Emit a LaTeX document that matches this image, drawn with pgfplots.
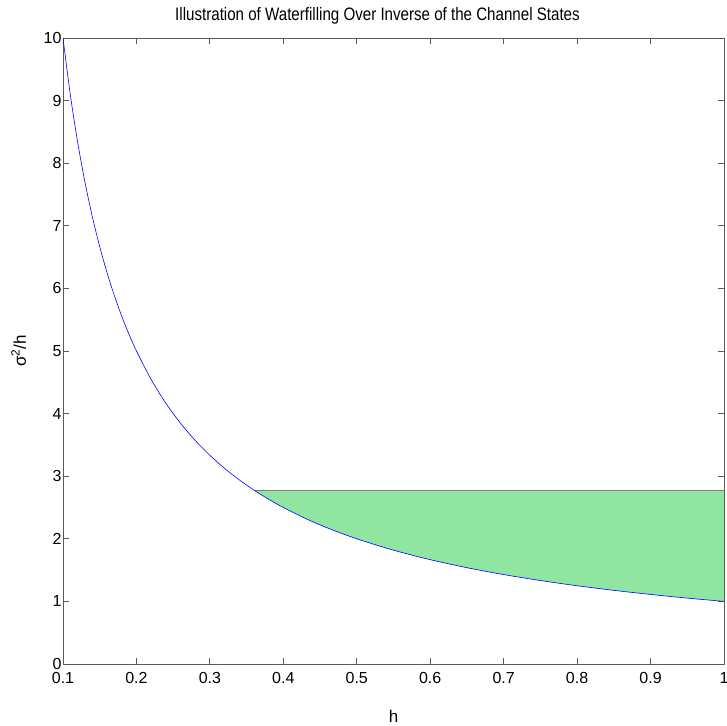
\documentclass[border=0pt]{standalone}
\usepackage{fontspec}
\setmainfont{Liberation Sans}
\usepackage{graphicx}
\usepackage{pgfplots}
\pgfplotsset{compat=1.18}
\definecolor{wgreen}{RGB}{144,230,160}
\definecolor{axgray}{RGB}{90,90,90}
\begin{document}
\begin{tikzpicture}
\useasboundingbox (-63pt,-62pt) rectangle (663pt,664pt);
\begin{axis}[
  at={(0pt,0pt)}, anchor=south west,
  width=661pt, height=626pt, scale only axis,
  xmin=0.1, xmax=1, ymin=0, ymax=10,
  xtick={0.1,0.2,0.3,0.4,0.5,0.6,0.7,0.8,0.9,1},
  xticklabels={0.1,0.2,0.3,0.4,0.5,0.6,0.7,0.8,0.9,1},
  ytick={0,1,2,3,4,5,6,7,8,9,10},
  tick align=inside,
  major tick length=6pt,
  axis line style={axgray, line width=0.8pt},
  every tick/.style={axgray, line width=0.8pt},
  /pgf/number format/assume math mode=true,
  tick label style={font=\fontsize{16}{18}\selectfont},
  xticklabel style={yshift=-5pt},
  yticklabel style={xshift=2pt},
  title={\scalebox{0.84}[1]{Illustration of Waterfilling Over Inverse of the Channel States}},
  title style={font=\fontsize{18}{20}\selectfont, at={(axis description cs:0.5,1)}, anchor=base, yshift=11pt, xshift=-16pt},
  xlabel={h},
  ylabel={σ\textsuperscript{2}/h},
  label style={font=\fontsize{17}{19}\selectfont},
  xlabel style={at={([yshift=-58pt]axis description cs:0.5,0)}, anchor=base},
  ylabel style={at={([xshift=-37pt]axis description cs:0,0.5)}, anchor=base},
]
\addplot[fill=wgreen, draw=none] coordinates {
(0.36,2.7778) (0.38,2.6316) (0.40,2.5) (0.43,2.3256) (0.46,2.1739) (0.50,2)
(0.55,1.8182) (0.60,1.6667) (0.65,1.5385) (0.70,1.4286) (0.75,1.3333)
(0.80,1.25) (0.85,1.1765) (0.90,1.1111) (0.95,1.0526) (1.00,1) (1.00,2.7778)
} -- cycle;
\addplot[color=gray, line width=0.8pt] coordinates {(0.36,2.7778) (1,2.7778)};
\addplot[color=blue, line width=0.6pt, smooth] coordinates {
(0.10,10) (0.11,9.0909) (0.12,8.3333) (0.13,7.6923) (0.14,7.1429) (0.15,6.6667)
(0.16,6.25) (0.17,5.8824) (0.18,5.5556) (0.19,5.2632) (0.20,5) (0.22,4.5455)
(0.24,4.1667) (0.26,3.8462) (0.28,3.5714) (0.30,3.3333) (0.32,3.125)
(0.34,2.9412) (0.36,2.7778) (0.38,2.6316) (0.40,2.5) (0.43,2.3256)
(0.46,2.1739) (0.50,2) (0.55,1.8182) (0.60,1.6667) (0.65,1.5385) (0.70,1.4286)
(0.75,1.3333) (0.80,1.25) (0.85,1.1765) (0.90,1.1111) (0.95,1.0526) (1.00,1)
};
\end{axis}
\end{tikzpicture}
\end{document}
